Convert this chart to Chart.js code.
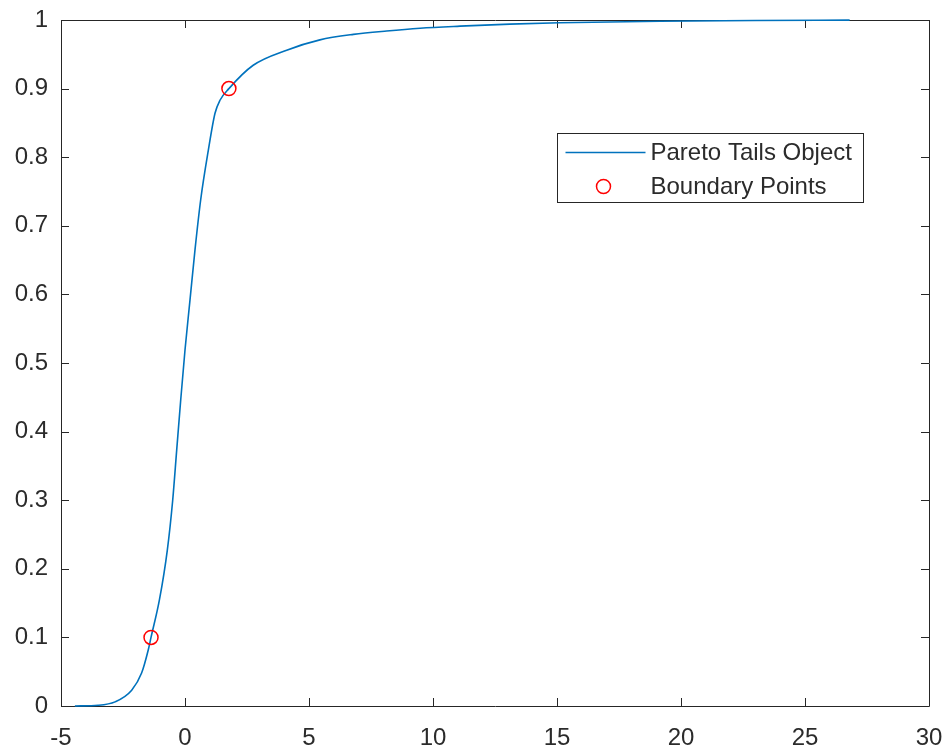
<!DOCTYPE html>
<html>
<head>
<meta charset="utf-8">
<script src="https://cdn.jsdelivr.net/npm/chart.js@4/dist/chart.umd.min.js"></script>
<style>
  html, body { margin: 0; padding: 0; background: #ffffff; }
  #wrap { width: 945px; height: 748px; position: relative; }
</style>
</head>
<body>
<div id="wrap"><canvas id="c" width="945" height="748"></canvas></div>
<script>
// Curve (x, F(x))
const curveX = [-4.44, -3.50, -2.82, -2.15, -1.75, -1.48, -1.37, -1.03, -0.714, -0.496, -0.335, -0.173, 0.0, 0.202, 0.403, 0.633, 0.94, 1.21, 1.41, 1.77, 2.75, 4.10, 5.44, 6.79, 8.13, 9.48, 11.09, 13.1, 15.1, 19.15, 23.0, 26.8];
const curveY = [0.0, 0.001, 0.006, 0.023, 0.048, 0.082, 0.100, 0.155, 0.227, 0.300, 0.373, 0.446, 0.519, 0.592, 0.665, 0.738, 0.810, 0.864, 0.883, 0.900, 0.934, 0.956, 0.971, 0.979, 0.984, 0.988, 0.991, 0.994, 0.996, 0.9982, 0.9993, 0.9998];
// Boundary points
const boundX = [-1.37, 1.77];
const boundY = [0.1, 0.9];
// Axis ticks
const xTicks = [-5, 0, 5, 10, 15, 20, 25, 30];
const yTicks = [0, 0.1, 0.2, 0.3, 0.4, 0.5, 0.6, 0.7, 0.8, 0.9, 1];
const legendLabels = ['Pareto Tails Object', 'Boundary Points'];

const LINE_COLOR = '#0072BD';
const PT_COLOR = '#FF0000';
const AXIS_COLOR = '#262626';
const TEXT_COLOR = '#2b2b2b';
const FONT = 'Liberation Sans, Arial, Helvetica, sans-serif';
const FONT_SIZE = 24;

const framePlugin = {
  id: 'frame',
  beforeDatasetsDraw(chart) {
    const { ctx, chartArea: a, scales } = chart;
    ctx.save();
    ctx.strokeStyle = AXIS_COLOR;
    ctx.lineWidth = 1;
    ctx.beginPath();
    ctx.rect(Math.round(a.left) + 0.5, Math.round(a.top) + 0.5, Math.round(a.right - a.left), Math.round(a.bottom - a.top));
    ctx.stroke();
    const tl = 8;
    ctx.beginPath();
    xTicks.forEach(v => {
      const px = Math.round(scales.x.getPixelForValue(v)) + 0.5;
      ctx.moveTo(px, a.bottom); ctx.lineTo(px, a.bottom - tl);
      ctx.moveTo(px, a.top); ctx.lineTo(px, a.top + tl);
    });
    yTicks.forEach(v => {
      const py = Math.round(scales.y.getPixelForValue(v)) + 0.5;
      ctx.moveTo(a.left, py); ctx.lineTo(a.left + tl, py);
      ctx.moveTo(a.right, py); ctx.lineTo(a.right - tl, py);
    });
    ctx.stroke();
    ctx.restore();
  }
};

const legendPlugin = {
  id: 'boxLegend',
  afterDraw(chart) {
    const { ctx, chartArea: a } = chart;
    const w = a.right - a.left, h = a.bottom - a.top;
    const bx = Math.round(a.left + w * 0.572) + 0.5;
    const by = Math.round(a.top + h * 0.165) + 0.5;
    const bw = 306, bh = 69;
    ctx.save();
    ctx.fillStyle = '#ffffff';
    ctx.fillRect(bx, by, bw, bh);
    ctx.strokeStyle = AXIS_COLOR;
    ctx.lineWidth = 1;
    ctx.strokeRect(bx, by, bw, bh);
    const r1 = by + 19, r2 = by + 53;
    ctx.strokeStyle = LINE_COLOR;
    ctx.lineWidth = 1.6;
    ctx.beginPath();
    ctx.moveTo(bx + 8, r1); ctx.lineTo(bx + 88, r1);
    ctx.stroke();
    ctx.strokeStyle = PT_COLOR;
    ctx.lineWidth = 1.5;
    ctx.beginPath();
    ctx.arc(bx + 46, r2, 7, 0, Math.PI * 2);
    ctx.stroke();
    ctx.fillStyle = TEXT_COLOR;
    ctx.font = FONT_SIZE + 'px ' + FONT;
    ctx.textBaseline = 'middle';
    ctx.textAlign = 'left';
    ctx.fillText(legendLabels[0], bx + 93, r1 + 1);
    ctx.fillText(legendLabels[1], bx + 93, r2 + 1);
    ctx.restore();
  }
};

const curveData = curveX.map((x, i) => ({ x: x, y: curveY[i] }));
const boundData = boundX.map((x, i) => ({ x: x, y: boundY[i] }));

new Chart(document.getElementById('c'), {
  type: 'scatter',
  data: {
    datasets: [
      {
        label: legendLabels[0],
        data: curveData,
        showLine: true,
        borderColor: LINE_COLOR,
        borderWidth: 1.6,
        pointRadius: 0,
        cubicInterpolationMode: 'monotone',
        clip: false,
        order: 2
      },
      {
        label: legendLabels[1],
        data: boundData,
        showLine: false,
        pointStyle: 'circle',
        pointRadius: 7,
        pointBorderWidth: 1.5,
        pointBorderColor: PT_COLOR,
        pointBackgroundColor: 'rgba(0,0,0,0)',
        clip: false,
        order: 1
      }
    ]
  },
  options: {
    responsive: false,
    animation: false,
    devicePixelRatio: 1,
    layout: { padding: { top: 20, right: 16, left: 0, bottom: 0 } },
    plugins: { legend: { display: false }, tooltip: { enabled: false } },
    scales: {
      x: {
        type: 'linear',
        min: -5, max: 30,
        afterBuildTicks(scale) { scale.ticks = xTicks.map(v => ({ value: v })); },
        afterFit(scale) { scale.height = 42; scale.paddingLeft = 0; scale.paddingRight = 0; },
        ticks: { color: TEXT_COLOR, font: { family: FONT, size: FONT_SIZE }, padding: 10, maxRotation: 0, autoSkip: false,
                 callback: v => String(v) },
        grid: { display: false },
        border: { display: false }
      },
      y: {
        type: 'linear',
        min: 0, max: 1,
        afterBuildTicks(scale) { scale.ticks = yTicks.map(v => ({ value: v })); },
        afterFit(scale) { scale.width = 61; scale.paddingTop = 0; scale.paddingBottom = 0; },
        ticks: { color: TEXT_COLOR, font: { family: FONT, size: FONT_SIZE }, padding: 5, autoSkip: false,
                 callback: v => String(Math.round(v * 10) / 10) },
        grid: { display: false },
        border: { display: false }
      }
    }
  },
  plugins: [framePlugin, legendPlugin]
});
</script>
</body>
</html>
